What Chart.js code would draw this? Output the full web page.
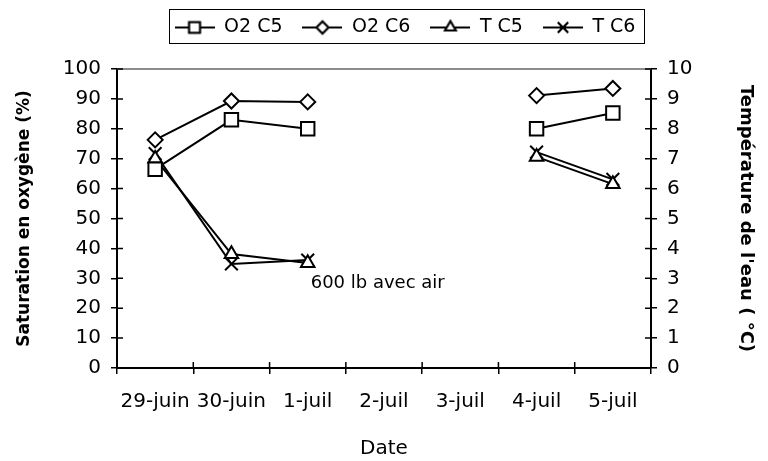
<!DOCTYPE html>
<html>
<head>
<meta charset="utf-8">
<script src="https://cdn.jsdelivr.net/npm/chart.js@4"></script>
<style>
  html, body { margin: 0; padding: 0; background: #fff; }
  #wrap { width: 768px; height: 461px; position: relative; }
</style>
</head>
<body>
<div id="wrap"><canvas id="o2Chart"></canvas></div>
<script>
// données
const dates = ['29-juin', '30-juin', '1-juil', '2-juil', '3-juil', '4-juil', '5-juil'];
const o2C5 = [66.5, 83, 80, null, null, 80, 85.3];
const o2C6 = [76.3, 89.3, 89, null, null, 91.1, 93.5];
const tC5 = [7.0, 3.81, 3.51, null, null, 7.06, 6.15];
const tC6 = [7.17, 3.48, 3.61, null, null, 7.22, 6.31];
const seriesNames = ['O2 C5', 'O2 C6', 'T C5', 'T C6'];
const markers = ['rect', 'rectRot', 'triangle', 'crossRot'];
const noteText = '600 lb avec air';
const noteAt = { x: 2, y: 28.2 };   // près du 1-juil

Chart.defaults.font.family = '"DejaVu Sans", sans-serif';
Chart.defaults.color = '#000';

const radius = [9.5, 7.5, 7.8, 9];

// petit dessin ligne + marqueur pour la légende
function legendIcon(style, r){
	const c = document.createElement('canvas');
	c.width = 40; c.height = 18;
	const g = c.getContext('2d');
	g.strokeStyle = '#000';
	g.lineWidth = 2;
	g.beginPath(); g.moveTo(0, 9); g.lineTo(40, 9); g.stroke();
	g.fillStyle = '#fff';
	Chart.helpers.drawPoint(g, {pointStyle: style, radius: r * 0.8, borderWidth: 1.6}, 20, 9);
	if (style !== 'crossRot') g.fill();
	g.stroke();
	return c;
}

function makeSet(i, values, axis){
	return {
		label: seriesNames[i],
		data: values,
		yAxisID: axis,
		borderColor: '#000',
		borderWidth: 2,
		backgroundColor: '#fff',
		pointStyle: markers[i],
		pointRadius: radius[i],
		pointBorderWidth: 2,
		pointBorderColor: '#000',
		pointBackgroundColor: '#fff',
		spanGaps: false,
		tension: 0
	};
}

const extras = {
	id: 'extras',
	afterLayout(chart){
		// on décale la légende comme sur l'original
		const lg = chart.legend;
		lg.left += 21; lg.right += 21;
		lg.top -= 22; lg.bottom -= 22;
	},
	afterDraw(chart){
		const ctx = chart.ctx;
		const a = chart.chartArea;
		const x = chart.scales.x, y = chart.scales.y, y2 = chart.scales.y2;
		ctx.save();
		// bordure du haut (grise)
		ctx.strokeStyle = '#8c8c8c';
		ctx.lineWidth = 2;
		ctx.beginPath(); ctx.moveTo(a.left, a.top); ctx.lineTo(a.right, a.top); ctx.stroke();
		// petits traits vers l'intérieur
		ctx.strokeStyle = '#000';
		ctx.lineWidth = 1.5;
		ctx.beginPath();
		y.ticks.forEach(function(t, i){
			const p = y.getPixelForTick(i);
			ctx.moveTo(a.left, p); ctx.lineTo(a.left + 6, p);
		});
		y2.ticks.forEach(function(t, i){
			const p = y2.getPixelForTick(i);
			ctx.moveTo(a.right, p); ctx.lineTo(a.right - 6, p);
		});
		for (var i = 0; i <= dates.length; i++){
			const p = x.getPixelForValue(i - 0.5);
			ctx.moveTo(p, a.bottom); ctx.lineTo(p, a.bottom - 6);
		}
		ctx.stroke();
		// cadre de la légende
		const lg = chart.legend;
		const pad = lg.options.labels.padding;
		const lw = lg.lineWidths[0];
		const sx = ((lg.left + pad) + (lg.right - lw)) / 2;
		const cy = lg.top + pad + 8;
		ctx.lineWidth = 1;
		ctx.strokeStyle = '#000';
		ctx.strokeRect(Math.round(sx - 6) + 0.5, Math.round(cy - 17) + 0.5, Math.round(lw - pad + 14), 34);
		// annotation
		ctx.fillStyle = '#000';
		ctx.font = '18px "DejaVu Sans"';
		ctx.textAlign = 'left';
		ctx.textBaseline = 'middle';
		ctx.fillText(noteText, x.getPixelForValue(noteAt.x) + 3, y.getPixelForValue(noteAt.y));
		ctx.restore();
	}
};

var ctx = document.getElementById('o2Chart').getContext('2d');
var o2Chart = new Chart(ctx, {
	type: 'line',
	data: {
		labels: dates,
		datasets: [
			makeSet(0, o2C5, 'y'),
			makeSet(1, o2C6, 'y'),
			makeSet(2, tC5, 'y2'),
			makeSet(3, tC6, 'y2')
		]
	},
	options: {
		responsive: true,
		maintainAspectRatio: false,
		devicePixelRatio: 1,
		animation: false,
		layout: { padding: { top: 20, left: 0, right: 0, bottom: 0 } },
		plugins: {
			tooltip: { enabled: false },
			legend: {
				position: 'top',
				labels: {
					usePointStyle: true,
					pointStyleWidth: 40,
					padding: 20,
					font: { size: 19 },
					generateLabels: function(chart){
						return chart.data.datasets.map(function(ds, i){
							return {
								text: ds.label,
								pointStyle: legendIcon(markers[i], radius[i]),
								fillStyle: '#fff',
								strokeStyle: '#000',
								lineWidth: 0,
								hidden: false,
								datasetIndex: i
							};
						});
					}
				}
			}
		},
		scales: {
			x: {
				offset: true,
				grid: { offset: true, drawOnChartArea: false, tickLength: 6, color: '#000', lineWidth: 1.5 },
				border: { color: '#000', width: 2 },
				ticks: { font: { size: 20 }, padding: 16, maxRotation: 0, autoSkip: false },
				title: { display: true, text: 'Date', font: { size: 20 }, padding: { top: 0, bottom: 0 } },
				afterFit: function(s){ s.height = 93; }
			},
			y: {
				position: 'left',
				min: 0, max: 100,
				ticks: { stepSize: 10, font: { size: 20 }, padding: 10 },
				grid: { drawOnChartArea: false, tickLength: 6, color: '#000', lineWidth: 1.5 },
				border: { color: '#000', width: 2 },
				title: { display: true, text: 'Saturation en oxygène (%)', font: { size: 17, weight: 'bold' }, padding: { top: 14, bottom: 0 } },
				afterFit: function(s){ s.width = 117; }
			},
			y2: {
				position: 'right',
				min: 0, max: 10,
				ticks: { stepSize: 1, font: { size: 20 }, padding: 10 },
				grid: { drawOnChartArea: false, tickLength: 6, color: '#000', lineWidth: 1.5 },
				border: { color: '#000', width: 2 },
				title: { display: true, text: "Température de l'eau ( °C)", font: { size: 18, weight: 'bold' }, padding: { top: 12, bottom: 0 } },
				afterFit: function(s){ s.width = 117; }
			}
		}
	},
	plugins: [extras]
});
</script>
</body>
</html>
